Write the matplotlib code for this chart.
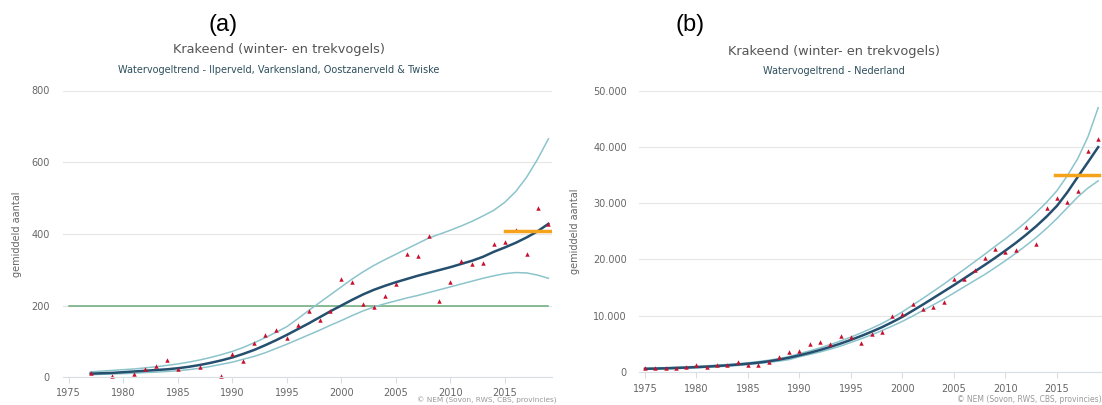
import matplotlib.pyplot as plt

# Krakeend trend data: yearly trend line, confidence band and counted means
years_a = list(range(1977, 2020))
trend_a = [10, 11, 12, 14, 16, 18, 20, 22, 25, 29, 34, 40, 47, 55, 65, 76, 89, 103, 118, 134,
           150, 167, 184, 200, 216, 231, 244, 255, 265, 274, 283, 291, 299, 307, 316, 325, 336,
           350, 362, 375, 390, 407, 428]
upper_a = [15, 17, 19, 21, 23, 26, 29, 33, 37, 42, 48, 55, 63, 72, 83, 96, 110, 125, 141, 163,
           186, 208, 230, 252, 274, 294, 312, 328, 343, 358, 373, 388, 399, 410, 422, 435, 450,
           466, 488, 518, 558, 608, 665]
lower_a = [7, 8, 9, 10, 11, 13, 14, 16, 18, 21, 25, 30, 36, 42, 50, 58, 68, 80, 92, 105,
           118, 131, 145, 158, 172, 185, 196, 205, 213, 221, 228, 236, 244, 252, 260, 268, 276,
           283, 289, 292, 291, 285, 276]
count_years_a = [1977, 1979, 1981, 1982, 1983, 1984, 1985, 1987, 1989, 1990, 1991, 1992, 1993,
                 1994, 1995, 1996, 1997, 1998, 1999, 2000, 2001, 2002, 2003, 2004, 2005, 2006,
                 2007, 2008, 2009, 2010, 2011, 2012, 2013, 2014, 2015, 2016, 2017, 2018, 2019]
counts_a = [12, 4, 9, 22, 32, 47, 22, 28, 4, 64, 46, 95, 117, 133, 110, 146, 186, 161, 185,
            275, 267, 205, 196, 227, 261, 345, 337, 393, 212, 267, 323, 317, 320, 372, 377,
            411, 343, 471, 428]
target_a = 200
recent_a = 407

years_b = list(range(1975, 2020))
trend_b = [550, 590, 640, 700, 770, 850, 940, 1050, 1170, 1300, 1460, 1650, 1880, 2170, 2530,
           2950, 3400, 3900, 4450, 5050, 5700, 6400, 7150, 7950, 8850, 9800, 10900, 12000,
           13150, 14300, 15450, 16650, 17850, 19050, 20300, 21600, 22950, 24400, 25950, 27650,
           29550, 31950, 34650, 37300, 40000]
upper_b = [650, 700, 760, 820, 900, 980, 1080, 1190, 1320, 1460, 1620, 1830, 2080, 2380, 2730,
           3250, 3740, 4280, 4870, 5510, 6200, 6950, 7750, 8600, 9600, 10700, 11900, 13100,
           14350, 15600, 16950, 18250, 19600, 20950, 22350, 23700, 25150, 26700, 28400, 30200,
           32250, 34900, 37900, 41800, 47000]
lower_b = [460, 490, 530, 590, 650, 730, 810, 910, 1020, 1150, 1310, 1480, 1690, 1920, 2190,
           2700, 3100, 3550, 4050, 4600, 5250, 5900, 6600, 7350, 8150, 9000, 9950, 10950,
           11950, 12950, 14050, 15150, 16250, 17350, 18550, 19800, 21100, 22500, 23950, 25550,
           27300, 29200, 31100, 32700, 34000]
counts_b = [640, 620, 640, 620, 930, 1230, 930, 1230, 1230, 1820, 1230, 1230, 1820, 2590, 3600,
            3780, 4960, 5260, 4960, 6450, 6270, 5200, 6700, 7140, 9950, 10240, 12080, 11250,
            11490, 12380, 16470, 16470, 18130, 20210, 21810, 21330, 21690, 25840, 22760,
            29110, 31000, 30180, 32130, 39360, 41440]
recent_b = 35000

xticks = [1975, 1980, 1985, 1990, 1995, 2000, 2005, 2010, 2015]
yticks_a = [0, 200, 400, 600, 800]
yticks_b = [0, 10000, 20000, 30000, 40000, 50000]
ylabels_b = ['0', '10.000', '20.000', '30.000', '40.000', '50.000']

TREND = '#244f6e'
BAND = '#8cc4cc'
POINT = '#c8102e'
ORANGE = '#f5a31a'
GREEN = '#6aaa7a'
GRID = '#e6e6e6'
TXT = '#666666'

W, H = 1102, 405
fig = plt.figure(figsize=(W / 100, H / 100), dpi=100)


def rect(x0, y_top, x1, y_bot):
    return [x0 / W, 1 - y_bot / H, (x1 - x0) / W, (y_bot - y_top) / H]


def style(ax, yticks, ylabels, xpad):
    for s in ['top', 'right', 'left']:
        ax.spines[s].set_visible(False)
    ax.spines['bottom'].set_color('#d8dde6')
    ax.spines['bottom'].set_linewidth(0.8)
    ax.set_yticks(yticks)
    ax.set_yticklabels(ylabels)
    ax.set_xticks(xticks)
    ax.grid(axis='y', color=GRID, linewidth=0.8)
    ax.set_axisbelow(True)
    ax.tick_params(axis='y', length=0, pad=9, labelsize=7, labelcolor=TXT)
    ax.tick_params(axis='x', length=4, width=0.8, color='#d8dde6', pad=xpad,
                   labelsize=7, labelcolor=TXT)
    ax.set_ylabel('gemiddeld aantal', fontsize=7, color=TXT)


# (a) regional trend
ax1 = fig.add_axes(rect(62.5, 90.5, 552, 377.2))
ax1.plot([1975, 2019], [target_a, target_a], color=GREEN, lw=1.1)
ax1.plot(years_a, upper_a, color=BAND, lw=1.1)
ax1.plot(years_a, lower_a, color=BAND, lw=1.1)
ax1.plot(years_a, trend_a, color=TREND, lw=1.8)
ax1.plot(count_years_a, counts_a, '^', color=POINT, ms=3.2, mew=0, clip_on=False)
ax1.plot([2015, 2019.2], [recent_a, recent_a], color=ORANGE, lw=2.5)
ax1.set_xlim(1974.42, 2019.33)
ax1.set_ylim(0, 800)
style(ax1, yticks_a, [str(v) for v in yticks_a], 3.5)
ax1.yaxis.set_label_coords(-0.083, 0.5)

# (b) national trend
ax2 = fig.add_axes(rect(639.5, 90.9, 1102, 371.9))
ax2.plot(years_b, upper_b, color=BAND, lw=1.1)
ax2.plot(years_b, lower_b, color=BAND, lw=1.1)
ax2.plot(years_b, trend_b, color=TREND, lw=1.8)
ax2.plot(years_b, counts_b, '^', color=POINT, ms=3.2, mew=0, clip_on=False)
ax2.plot([2014.8, 2019.1], [recent_b, recent_b], color=ORANGE, lw=2.5)
ax2.set_xlim(1974.47, 2019.37)
ax2.set_ylim(0, 50000)
style(ax2, yticks_b, ylabels_b, 5)
ax2.yaxis.set_label_coords(-0.128, 0.5)

# panel letters, titles and credits
for cx, letter in [(223, '(a)'), (689.6, '(b)')]:
    fig.text(cx / W, 1 - 25.5 / H, letter, ha='center', va='center',
             fontsize=17, family='Liberation Sans', color='black')

fig.text(279 / W, 1 - 50 / H, 'Krakeend (winter- en trekvogels)', ha='center', va='center',
         fontsize=9.3, color='#555555')
fig.text(278.5 / W, 1 - 70 / H, 'Watervogeltrend - Ilperveld, Varkensland, Oostzanerveld & Twiske',
         ha='center', va='center', fontsize=7, color='#2d4f5c')
fig.text(834.5 / W, 1 - 51 / H, 'Krakeend (winter- en trekvogels)', ha='center', va='center',
         fontsize=9.3, color='#555555')
fig.text(834 / W, 1 - 71 / H, 'Watervogeltrend - Nederland', ha='center', va='center',
         fontsize=7, color='#2d4f5c')

credit = '\u00a9 NEM (Sovon, RWS, CBS, provincies)'
fig.text(557 / W, 0.5 / H, credit, ha='right', va='bottom', fontsize=5.3, color='#999999')
fig.text(1102 / W, 1 - 395 / H, credit, ha='right', va='top', fontsize=5.5, color='#999999')

fig.savefig('out.png', dpi=100)
